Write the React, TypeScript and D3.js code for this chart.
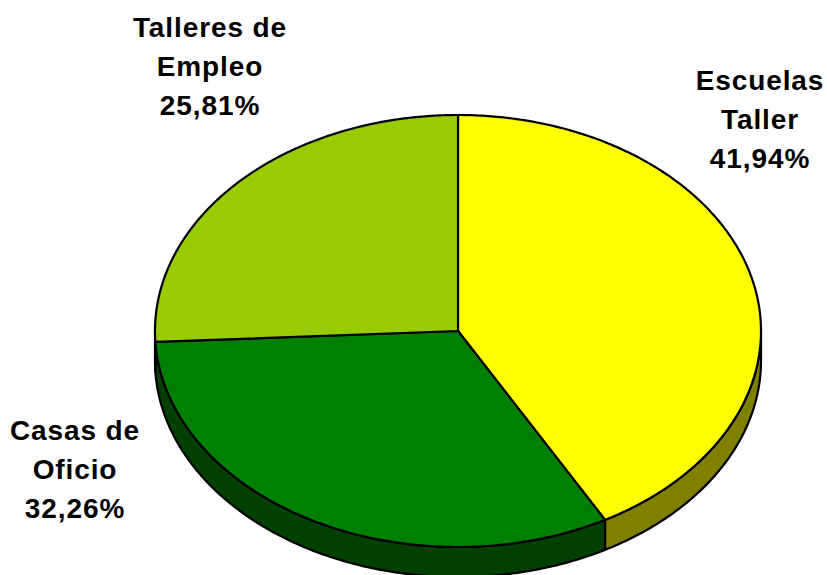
import React, { useEffect, useRef } from "react";
import * as d3 from "d3";

const categories = ["Escuelas Taller", "Casas de Oficio", "Talleres de Empleo"];
const values = [41.94, 32.26, 25.81];
const labelLines = [
  ["Escuelas", "Taller", "41,94%"],
  ["Casas de", "Oficio", "32,26%"],
  ["Talleres de", "Empleo", "25,81%"],
];
const topColors = ["#FFFF00", "#008000", "#99CC00"];
const sideColors = ["#808000", "#004000", "#4D6600"];

export default function App() {
  const svgRef = useRef<SVGSVGElement>(null);

  useEffect(() => {
    const svg = d3.select(svgRef.current);
    svg.selectAll("*").remove();

    const cx = 458, cy = 331, rx = 303, ry = 216, depth = 30;
    const ex = (a: number) => cx + rx * Math.sin(a);
    const ey = (a: number) => cy - ry * Math.cos(a);

    const pie = d3.pie<number>().sort(null).value((d) => d);
    const arcs = pie(values);

    // build a polyline along the ellipse
    const arcPts = (a0: number, a1: number, dy: number) => {
      const n = Math.max(2, Math.ceil(Math.abs(a1 - a0) / 0.01));
      const pts: [number, number][] = [];
      for (let i = 0; i <= n; i++) {
        const a = a0 + ((a1 - a0) * i) / n;
        pts.push([ex(a), ey(a) + dy]);
      }
      return pts;
    };

    const line = d3.line();

    // side walls (only the front half, PI/2..3PI/2)
    const g = svg.append("g");
    arcs.forEach((d, i) => {
      const s = Math.max(d.startAngle, Math.PI / 2);
      const e = Math.min(d.endAngle, (3 * Math.PI) / 2);
      if (e <= s) return;
      const top = arcPts(s, e, 0);
      const bottom = arcPts(e, s, depth);
      g.append("path")
        .attr("d", line([...top, ...bottom]) + "Z")
        .attr("fill", sideColors[i])
        .attr("stroke", "#000")
        .attr("stroke-width", 2.2)
        .attr("stroke-linejoin", "round");
    });

    // top faces
    arcs.forEach((d, i) => {
      const pts: [number, number][] = [[cx, cy], ...arcPts(d.startAngle, d.endAngle, 0)];
      g.append("path")
        .attr("d", line(pts) + "Z")
        .attr("fill", topColors[i])
        .attr("stroke", "#000")
        .attr("stroke-width", 2.2)
        .attr("stroke-linejoin", "round");
    });

    // labels
    const labelPos = [
      { x: 760, y: 90 },
      { x: 75, y: 440 },
      { x: 210, y: 37 },
    ];
    categories.forEach((c, i) => {
      const t = svg
        .append("text")
        .attr("text-anchor", "middle")
        .attr("font-family", "'Liberation Sans', Arial, sans-serif")
        .attr("font-weight", "bold")
        .attr("font-size", 28)
        .attr("letter-spacing", 0.9)
        .attr("fill", "#000");
      labelLines[i].forEach((ln, j) => {
        t.append("tspan")
          .attr("x", labelPos[i].x)
          .attr("y", labelPos[i].y + j * 39)
          .text(ln);
      });
    });
  }, []);

  return (
    <svg
      ref={svgRef}
      width={827}
      height={575}
      style={{ position: "absolute", left: 0, top: 0, background: "#fff" }}
    />
  );
}
